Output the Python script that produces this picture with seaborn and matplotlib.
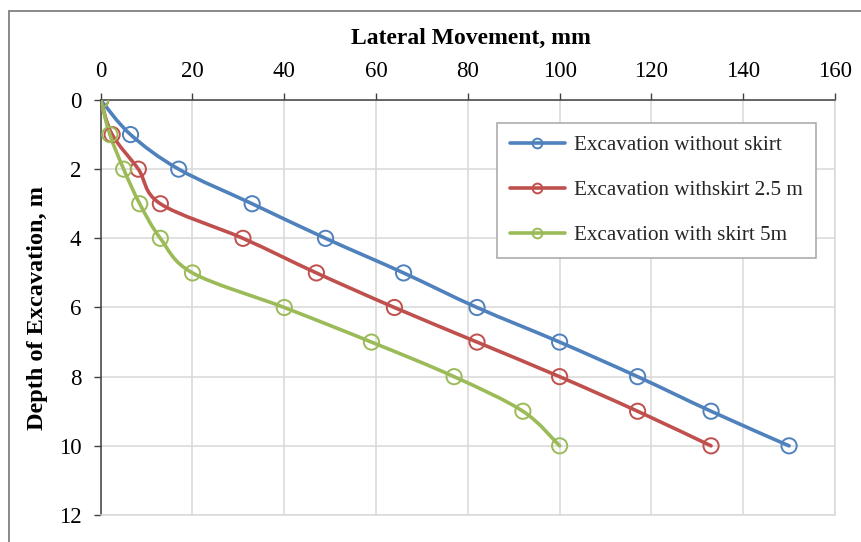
import numpy as np
import pandas as pd
import matplotlib.pyplot as plt
import seaborn as sns
from matplotlib.path import Path
from matplotlib.patches import PathPatch, Rectangle
from matplotlib.lines import Line2D

# Data
depth = [0, 1, 2, 3, 4, 5, 6, 7, 8, 9, 10]
no_skirt = [0, 6.5, 17, 33, 49, 66, 82, 100, 117, 133, 150]
skirt_2_5 = [0, 2.5, 8.2, 13, 31, 47, 64, 82, 100, 117, 133]
skirt_5 = [0, 2, 5, 8.5, 13, 20, 40, 59, 77, 92, 100]
series_names = ['Excavation without skirt', 'Excavation withskirt 2.5 m', 'Excavation with skirt 5m']
colors = ['#4f81bd', '#c0504d', '#9bbb59']
x_ticks = [0, 20, 40, 60, 80, 100, 120, 140, 160]
y_ticks = [0, 2, 4, 6, 8, 10, 12]

df = pd.concat([
    pd.DataFrame({'movement': no_skirt, 'depth': depth, 'series': series_names[0]}),
    pd.DataFrame({'movement': skirt_2_5, 'depth': depth, 'series': series_names[1]}),
    pd.DataFrame({'movement': skirt_5, 'depth': depth, 'series': series_names[2]}),
])

sns.set_theme(style='white')
plt.rcParams['font.family'] = ['Liberation Serif', 'DejaVu Serif']


def smooth_path(xs, ys):
    # Excel style smoothed line: cubic bezier through the points
    p = np.column_stack([xs, ys]).astype(float)
    n = len(p)
    verts = [p[0]]
    codes = [Path.MOVETO]
    for i in range(n - 1):
        prev = p[i - 1] if i > 0 else p[i]
        nxt = p[i + 2] if i + 2 < n else p[i + 1]
        c1 = p[i] + (p[i + 1] - prev) / 6
        c2 = p[i + 1] - (nxt - p[i]) / 6
        verts += [c1, c2, p[i + 1]]
        codes += [Path.CURVE4] * 3
    return Path(verts, codes)


fig = plt.figure(figsize=(8.61, 5.42), dpi=100)
ax = fig.add_axes([0.11696, 0.04982, 0.8528, 0.76568])

# smoothed lines
for name, c in zip(series_names, colors):
    sub = df[df['series'] == name]
    ax.add_patch(PathPatch(smooth_path(sub['movement'], sub['depth']),
                           facecolor='none', edgecolor=c, lw=2.6,
                           capstyle='round', joinstyle='round', zorder=3))

# hollow circle markers
sns.scatterplot(data=df, x='movement', y='depth', hue='series', palette=colors,
                marker='o', s=120, linewidth=1.4, legend=False, ax=ax, zorder=4)
for coll in ax.collections:
    coll.set_facecolor('none')
    coll.set_edgecolor([colors[series_names.index(s)] for s in df['series']])

ax.set_xlim(0, 160)
ax.set_ylim(12, 0)
ax.set_xticks(x_ticks)
ax.set_yticks(y_ticks)
ax.xaxis.tick_top()
ax.xaxis.set_label_position('top')
ax.grid(True, color='#d9d9d9', lw=1.1)
ax.set_axisbelow(True)

for side in ['top', 'left']:
    ax.spines[side].set_color('#404040')
    ax.spines[side].set_linewidth(1.1)
for side in ['right', 'bottom']:
    ax.spines[side].set_color('#d9d9d9')
    ax.spines[side].set_linewidth(1.1)

ax.tick_params(axis='x', which='both', top=True, bottom=False, direction='out',
               length=5, width=1, color='#404040', pad=8, labelsize=16.5, labelcolor='black')
ax.tick_params(axis='y', which='both', left=True, direction='out',
               length=5, width=1, color='#404040', pad=9, labelsize=16.5, labelcolor='black')

ax.set_xlabel('Lateral Movement, mm', fontsize=17, fontweight='bold', color='black')
ax.xaxis.set_label_coords((471 - 100.7) / 734.3, (515 - 38) / 415)
ax.xaxis.label.set_verticalalignment('center')
ax.set_ylabel('Depth of Excavation, m', fontsize=17.5, fontweight='bold', color='black')
ax.yaxis.set_label_coords((37 - 100.7) / 734.3, (515 - 308) / 415)
ax.yaxis.label.set_verticalalignment('center')

handles = [Line2D([], [], color=c, lw=2.6, marker='o', markersize=7,
                  markerfacecolor='none', markeredgewidth=1.4) for c in colors]
leg = ax.legend(handles, series_names, loc='upper left',
                bbox_to_anchor=(497 / 861, 1 - 123 / 542), bbox_transform=fig.transFigure,
                fontsize=15.2, frameon=True, fancybox=False, framealpha=1,
                edgecolor='#a6a6a6', handlelength=2.6, handletextpad=0.45,
                labelspacing=1.19, borderpad=0.6, borderaxespad=0)
leg.get_frame().set_linewidth(1.1)

# chart area border (cut off on right and bottom)
fig.add_artist(Rectangle((9 / 861, -0.05), 1.2, 1.05 - 11 / 542,
                         transform=fig.transFigure, fill=False,
                         edgecolor='#808080', lw=1.3))

fig.savefig('out.png', dpi=100)
